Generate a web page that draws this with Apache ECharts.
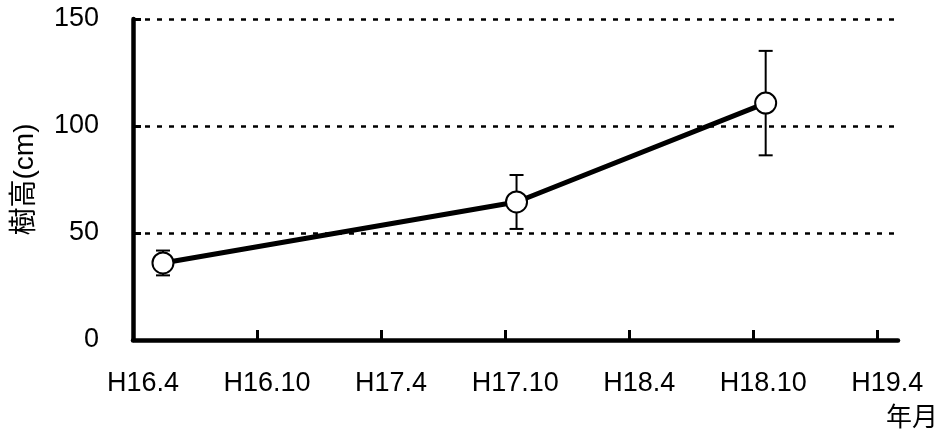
<!DOCTYPE html>
<html>
<head>
<meta charset="utf-8">
<script src="https://cdn.jsdelivr.net/npm/echarts@6/dist/echarts.min.js"></script>
<style>
html,body{margin:0;padding:0;background:#fff;}
#chart{width:941px;height:432px;}
</style>
</head>
<body>
<div id="chart"></div>
<script>
// Tick positions (months since H16.4) and their labels
const xTickMonths = [0, 6, 12, 18, 24, 30, 36];
const xTickLabels = ['H16.4', 'H16.10', 'H17.4', 'H17.10', 'H18.4', 'H18.10', 'H19.4'];
// Measurement times (months since H16.4)
const measureMonths = [1.45, 18.55, 30.6];
// Mean tree height (cm)
const meanHeight = [36, 64.5, 110.7];
// Error bar half-length (cm)
const errHeight = [5.8, 12.6, 24.4];
const yTicks = [0, 50, 100, 150];

const FONT = "'Liberation Sans', Arial, 'Noto Sans CJK JP', sans-serif";

const lineData = measureMonths.map((m, i) => [m, meanHeight[i]]);
const errData = measureMonths.map((m, i) => [m, meanHeight[i] - errHeight[i], meanHeight[i] + errHeight[i]]);

const chart = echarts.init(document.getElementById('chart'));
chart.setOption({
  animation: false,
  backgroundColor: '#fff',
  grid: { left: 133, right: 43, top: 19, bottom: 92, containLabel: false, outerBoundsMode: 'none' },
  xAxis: {
    type: 'value',
    min: 0,
    max: 37,
    interval: 6,
    axisLine: { show: true, lineStyle: { color: '#000', width: 4.5 } },
    axisTick: { show: true, inside: true, length: 10, customValues: xTickMonths, lineStyle: { color: '#000', width: 3 } },
    axisLabel: {
      show: true,
      customValues: xTickMonths,
      margin: 30,
      color: '#000',
      fontSize: 27,
      fontFamily: FONT,
      padding: [0, 0, 0, 20],
      formatter: v => {
        const i = xTickMonths.indexOf(v);
        return i >= 0 ? xTickLabels[i] : '';
      }
    },
    splitLine: { show: false }
  },
  yAxis: {
    type: 'value',
    min: 0,
    max: 150,
    interval: 50,
    name: '樹高(cm)',
    nameLocation: 'middle',
    nameGap: 94,
    nameTextStyle: { color: '#000', fontSize: 28, fontFamily: FONT },
    axisLine: { show: true, lineStyle: { color: '#000', width: 4.5 } },
    axisTick: { show: true, inside: true, length: 8, lineStyle: { color: '#000', width: 3 } },
    axisLabel: { color: '#000', fontSize: 27, fontFamily: FONT, margin: 34 },
    splitLine: { show: true, lineStyle: { color: '#000', width: 2.5, type: [5, 7] } }
  },
  graphic: [{
    type: 'text',
    right: 3,
    top: 403,
    style: { text: '年月', fill: '#000', font: "26px 'Noto Sans CJK JP', sans-serif" }
  }],
  series: [
    {
      type: 'custom',
      z: 1,
      renderItem: (params, api) => {
        const x = api.value(0);
        const lo = api.coord([x, api.value(1)]);
        const hi = api.coord([x, api.value(2)]);
        const hw = 7;
        const st = { stroke: '#000', lineWidth: 2 };
        return {
          type: 'group',
          children: [
            { type: 'line', shape: { x1: lo[0], y1: lo[1], x2: hi[0], y2: hi[1] }, style: st },
            { type: 'line', shape: { x1: lo[0] - hw, y1: lo[1], x2: lo[0] + hw, y2: lo[1] }, style: st },
            { type: 'line', shape: { x1: hi[0] - hw, y1: hi[1], x2: hi[0] + hw, y2: hi[1] }, style: st }
          ]
        };
      },
      encode: { x: 0, y: [1, 2] },
      data: errData
    },
    {
      type: 'line',
      z: 5,
      data: lineData,
      symbol: 'circle',
      symbolSize: 21,
      showAllSymbol: true,
      lineStyle: { color: '#000', width: 5 },
      itemStyle: { color: '#fff', borderColor: '#000', borderWidth: 2 }
    }
  ]
});
</script>
</body>
</html>
